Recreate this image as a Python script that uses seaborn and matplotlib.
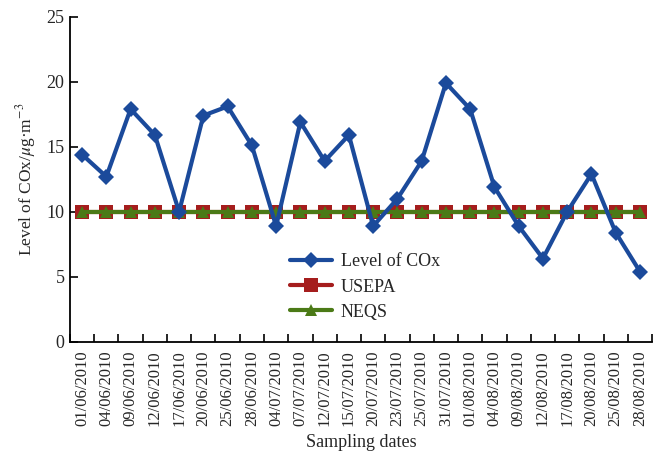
import matplotlib
matplotlib.use("Agg")
import matplotlib.pyplot as plt
import seaborn as sns
import pandas as pd
import numpy as np

sns.set_theme(style="white")
plt.rcParams["font.family"] = ["Liberation Serif", "DejaVu Serif"]
plt.rcParams["mathtext.fontset"] = "stix"

dates = ["01/06/2010", "04/06/2010", "09/06/2010", "12/06/2010", "17/06/2010",
         "20/06/2010", "25/06/2010", "28/06/2010", "04/07/2010", "07/07/2010",
         "12/07/2010", "15/07/2010", "20/07/2010", "23/07/2010", "25/07/2010",
         "31/07/2010", "01/08/2010", "04/08/2010", "09/08/2010", "12/08/2010",
         "17/08/2010", "20/08/2010", "25/08/2010", "28/08/2010"]
cox = [14.4, 12.7, 17.9, 15.9, 10.0, 17.4, 18.1, 15.1, 8.9, 16.9, 13.9, 15.9,
       8.9, 11.0, 13.9, 19.9, 17.9, 11.9, 8.9, 6.4, 10.0, 12.9, 8.4, 5.4]
usepa = [10] * 24
neqs = [10] * 24

pos = np.arange(len(dates))
df = pd.DataFrame({"pos": pos, "cox": cox, "usepa": usepa, "neqs": neqs})

fig = plt.figure(figsize=(6.6, 4.65), dpi=100)
ax = fig.add_axes([0.106, 0.265, 0.882, 0.699])

blue = "#1b4a9b"
red = "#a51d1d"
green = "#4b7a17"

sns.lineplot(data=df, x="pos", y="cox", ax=ax, color=blue, lw=3.0,
             marker="D", markersize=8, markeredgewidth=0, label="Level of COx", zorder=4)
sns.lineplot(data=df, x="pos", y="usepa", ax=ax, color=red, lw=3.0,
             marker="s", markersize=10, markeredgewidth=0, label="USEPA", zorder=2)
sns.lineplot(data=df, x="pos", y="neqs", ax=ax, color=green, lw=3.0,
             marker="^", markersize=9, markeredgewidth=0, label="NEQS", zorder=3)

ax.set_xlim(-0.5, len(dates) - 0.5)
ax.set_ylim(0, 25)
ax.set_yticks([0, 5, 10, 15, 20, 25])
ax.set_xticks(np.arange(-0.5, len(dates), 1.0))
ax.set_xticklabels([])
ax.set_xticks(pos, minor=True)
ax.set_xticklabels(dates, minor=True, rotation=90, fontsize=12)
ax.tick_params(axis="x", which="major", bottom=True, direction="in", length=6,
               width=1.2, color="black")
ax.tick_params(axis="x", which="minor", bottom=True, length=0, pad=6)
ax.tick_params(axis="y", left=True, direction="in", length=6, width=1.2,
               color="black", labelsize=13, pad=4)

for s in ["top", "right"]:
    ax.spines[s].set_visible(False)
for s in ["left", "bottom"]:
    ax.spines[s].set_color("black")
    ax.spines[s].set_linewidth(1.3)

ax.set_xlabel("Sampling dates", fontsize=13, labelpad=6)
ax.set_ylabel(r"Level of COx/$\mu$g·m$^{-3}$", fontsize=12.5, labelpad=6)

ax.legend(loc="upper left", bbox_to_anchor=(0.415, 0.49), bbox_transform=fig.transFigure,
          frameon=False, fontsize=13, handlelength=2.3, labelspacing=0.45, handletextpad=0.5)

fig.savefig("out.png", dpi=100)
